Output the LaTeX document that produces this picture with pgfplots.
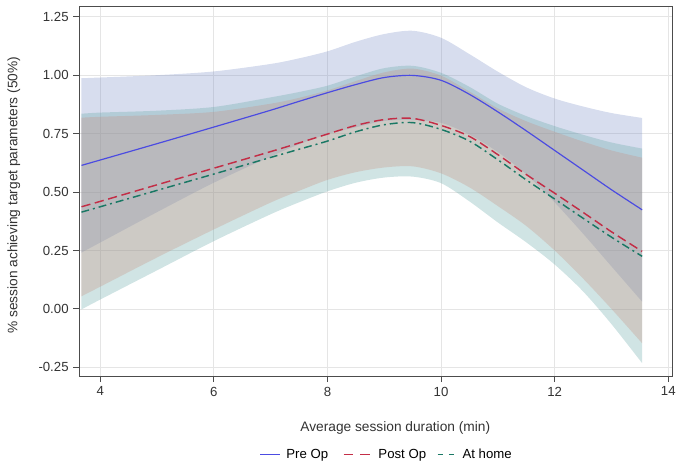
\documentclass[border=0pt]{standalone}
\usepackage{fontspec}
\setmainfont{Liberation Sans}
\usepackage{pgfplots}
\pgfplotsset{compat=1.18}
\usepackage{pgfplotstable}
\usepgfplotslibrary{fillbetween}

\definecolor{bandblue}{RGB}{122,142,198}
\definecolor{bandred}{RGB}{242,132,112}
\definecolor{bandgreen}{RGB}{98,165,165}
\definecolor{lineblue}{RGB}{75,75,225}
\definecolor{linered}{RGB}{195,45,70}
\definecolor{linegreen}{RGB}{25,120,100}
% own names for the legend samples
\definecolor{legblue}{RGB}{76,76,226}
\definecolor{legred}{RGB}{196,46,71}
\definecolor{leggreen}{RGB}{26,121,101}

% x, mean and 95% band for each group
\pgfplotstableread{
x      B      BU     BL     R      RU     RL      G      GU     GL
3.67   0.614  0.987  0.241  0.437  0.818  0.054   0.414  0.835  -0.002
4.0    0.637  0.990  0.284  0.460  0.822  0.095   0.437  0.840  0.040
5.0    0.707  1.000  0.414  0.531  0.830  0.220   0.507  0.848  0.165
6.0    0.778  1.016  0.540  0.602  0.843  0.340   0.577  0.864  0.290
7.0    0.850  1.048  0.652  0.673  0.878  0.455   0.648  0.905  0.405
7.5    0.888  1.072  0.704  0.710  0.903  0.505   0.683  0.928  0.456
8.0    0.925  1.102  0.748  0.748  0.935  0.552   0.718  0.955  0.503
8.5    0.960  1.143  0.777  0.785  0.975  0.585   0.758  0.995  0.540
9.0    0.990  1.176  0.804  0.810  1.012  0.605   0.788  1.030  0.562
9.5    0.999  1.190  0.808  0.815  1.028  0.610   0.797  1.040  0.566
10.0   0.978  1.160  0.796  0.785  0.998  0.580   0.768  1.010  0.538
10.5   0.918  1.090  0.746  0.738  0.930  0.520   0.718  0.950  0.460
11.0   0.843  1.015  0.671  0.660  0.858  0.440   0.638  0.878  0.370
11.5   0.762  0.948  0.576  0.575  0.803  0.355   0.552  0.825  0.285
12.0   0.678  0.900  0.456  0.495  0.758  0.250   0.470  0.782  0.190
12.5   0.594  0.866  0.322  0.413  0.716  0.130   0.388  0.745  0.075
13.0   0.510  0.838  0.182  0.330  0.678  0.000   0.307  0.712  -0.065
13.54  0.424  0.817  0.031  0.246  0.647  -0.147  0.225  0.686  -0.232
}\data

\begin{document}
\begin{tikzpicture}
% legend below the plot (drawn first)
\draw[draw=legblue, line width=0.9pt] (197.25pt,5.25pt) -- (212.25pt,5.25pt);
\draw[draw=legred, line width=1.1pt, dash pattern=on 7.5pt off 5pt] (260.25pt,5.25pt) -- (280.5pt,5.25pt);
\draw[draw=leggreen, line width=1.1pt, dash pattern=on 4pt off 4.5pt] (331.5pt,5.25pt) -- (344pt,5.25pt);
\begin{scope}[every node/.style={anchor=base west, inner sep=0pt,
        font=\fontsize{10}{12}\selectfont}]
\node at (216.75pt,1.8pt) {Pre Op};
\node at (286.5pt,1.8pt) {Post Op};
\node at (350.25pt,1.8pt) {At home};
\end{scope}

\begin{axis}[
    at={(60pt,64.5pt)}, anchor=south west,
    scale only axis,
    width=449.25pt, height=279.75pt,
    xmin=3.63, xmax=14.07,
    ymin=-0.288, ymax=1.292,
    xtick={4,6,...,14},
    ytick={-0.25,0,0.25,0.5,0.75,1,1.25},
    yticklabel style={/pgf/number format/.cd, fixed, fixed zerofill, precision=2},
    /pgf/number format/assume math mode=true,
    tick pos=left,
    tick align=outside,
    major tick length=4.5pt,
    axis line style={draw=black!70, line width=0.8pt},
    every tick/.style={draw=black!70, line width=0.7pt},
    grid=major,
    major grid style={draw=black!10, line width=0.6pt},
    tick label style={font=\fontsize{10}{12}\selectfont, text=black!80},
    label style={font=\fontsize{10.4}{12}\selectfont, text=black!80},
    xlabel={Average session duration (min)},
    ylabel={\% session achieving target parameters (50\%)},
    xlabel style={at={(axis description cs:0.533,-0.14)}, anchor=center},
    ylabel style={at={(axis description cs:-0.1102,0.49)}, anchor=center},
]
% bands
\addplot[name path=bu, draw=none, smooth, forget plot] table[x=x,y=BU]{\data};
\addplot[name path=bl, draw=none, smooth, forget plot] table[x=x,y=BL]{\data};
\addplot[fill=bandblue, fill opacity=0.3, draw=none, forget plot] fill between[of=bu and bl];

\addplot[name path=ru, draw=none, smooth, forget plot] table[x=x,y=RU]{\data};
\addplot[name path=rl, draw=none, smooth, forget plot] table[x=x,y=RL]{\data};
\addplot[fill=bandred, fill opacity=0.3, draw=none, forget plot] fill between[of=ru and rl];

\addplot[name path=gu, draw=none, smooth, forget plot] table[x=x,y=GU]{\data};
\addplot[name path=gl, draw=none, smooth, forget plot] table[x=x,y=GL]{\data};
\addplot[fill=bandgreen, fill opacity=0.3, draw=none, forget plot] fill between[of=gu and gl];

% means
\addplot[color=lineblue, line width=0.9pt, smooth] table[x=x,y=B]{\data};
\addplot[color=linered, line width=1.1pt, smooth, dash pattern=on 7pt off 3.5pt] table[x=x,y=R]{\data};
\addplot[color=linegreen, line width=1.1pt, smooth, dash pattern=on 6pt off 3pt on 1.5pt off 3pt] table[x=x,y=G]{\data};
\end{axis}
\path (0,0) rectangle (510pt,349.5pt);
\end{tikzpicture}
\end{document}
